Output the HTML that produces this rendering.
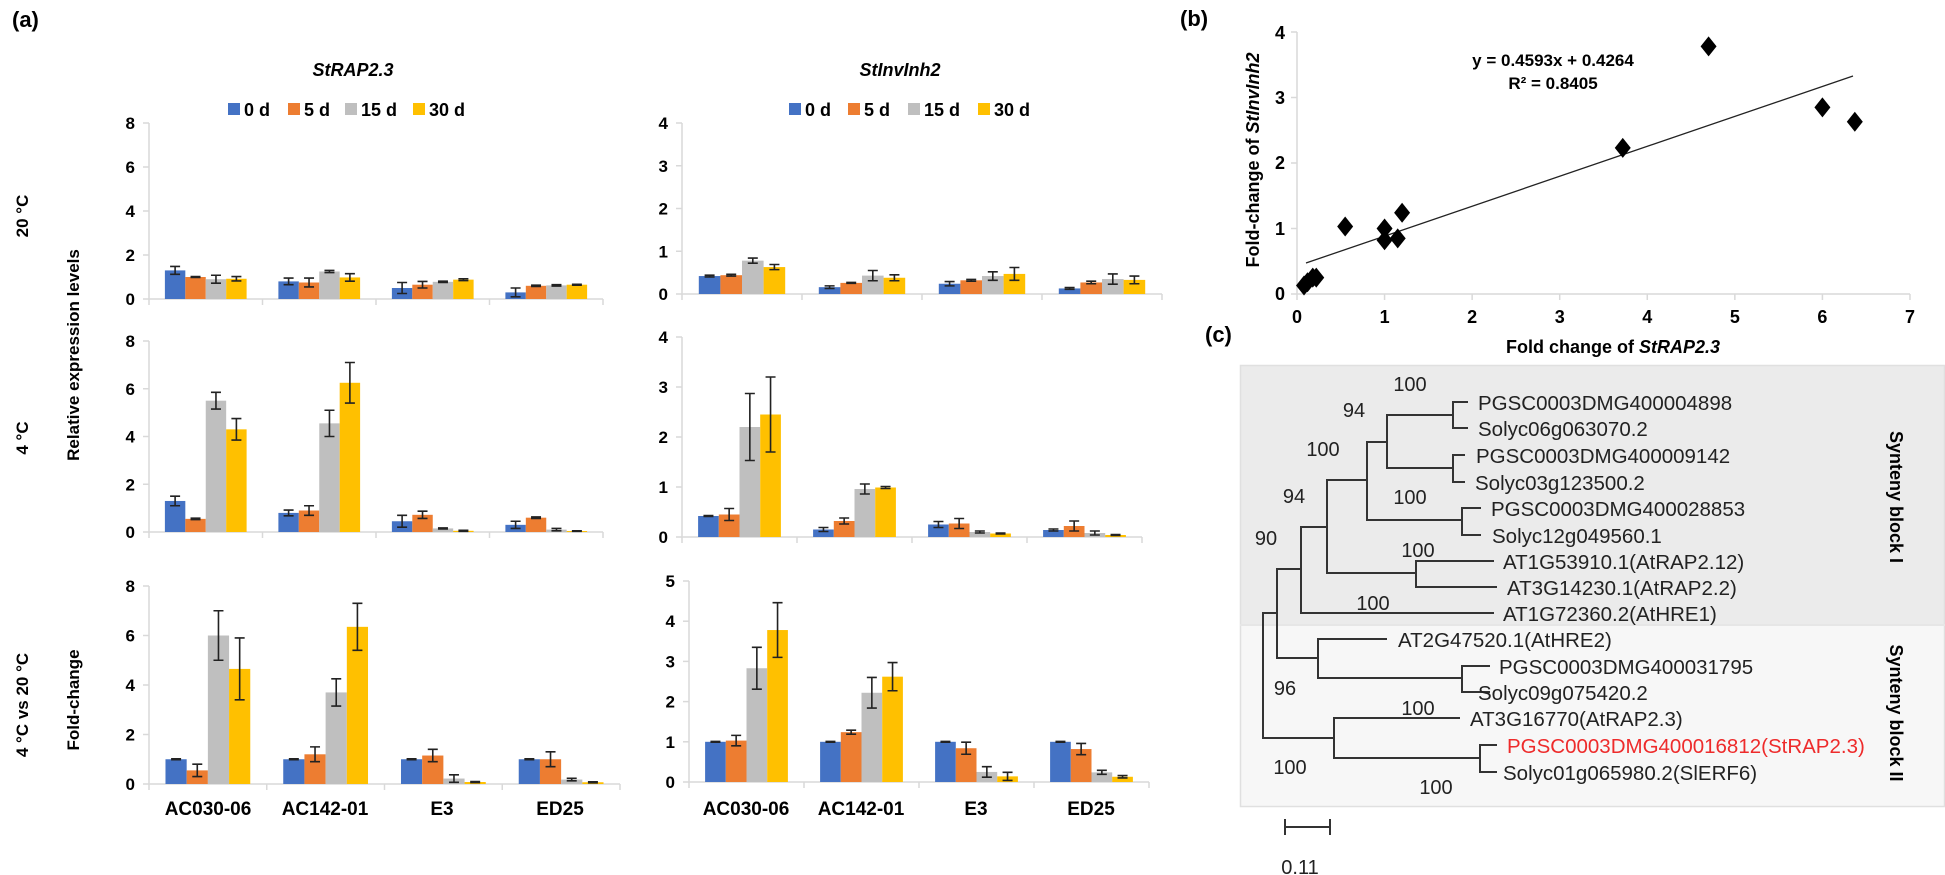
<!DOCTYPE html>
<html><head><meta charset="utf-8">
<style>
html,body{margin:0;padding:0;background:#fff;}
svg{display:block;font-family:"Liberation Sans",Arial,sans-serif;}
.b{font-weight:bold;}
</style></head>
<body>
<svg id="s" width="1945" height="875" viewBox="0 0 1945 875" xmlns="http://www.w3.org/2000/svg">
<rect width="1945" height="875" fill="#fff"/>
<text x="12" y="27" font-size="22" class="b">(a)</text>
<text x="353" y="76" font-size="18" class="b" font-style="italic" text-anchor="middle">StRAP2.3</text>
<text x="900" y="76" font-size="18" class="b" font-style="italic" text-anchor="middle">StInvInh2</text>
<g font-size="18" class="b">
<rect x="228" y="103" width="12" height="12" fill="#4472c4"/><text x="244" y="116">0 d</text>
<rect x="288" y="103" width="12" height="12" fill="#ed7d31"/><text x="304" y="116">5 d</text>
<rect x="345" y="103" width="12" height="12" fill="#bfbfbf"/><text x="361" y="116">15 d</text>
<rect x="413" y="103" width="12" height="12" fill="#ffc000"/><text x="429" y="116">30 d</text>
<rect x="789" y="103" width="12" height="12" fill="#4472c4"/><text x="805" y="116">0 d</text>
<rect x="848" y="103" width="12" height="12" fill="#ed7d31"/><text x="864" y="116">5 d</text>
<rect x="908" y="103" width="12" height="12" fill="#bfbfbf"/><text x="924" y="116">15 d</text>
<rect x="978" y="103" width="12" height="12" fill="#ffc000"/><text x="994" y="116">30 d</text>
</g>
<g font-size="17" class="b" text-anchor="middle">
<text transform="translate(28,216) rotate(-90)">20 °C</text>
<text transform="translate(28,438) rotate(-90)">4 °C</text>
<text transform="translate(28,705) rotate(-90)">4 °C vs 20 °C</text>
<text transform="translate(79,355) rotate(-90)">Relative expression levels</text>
<text transform="translate(79,700) rotate(-90)">Fold-change</text>
</g>
<g font-size="19" class="b" text-anchor="middle">
<text x="208" y="815">AC030-06</text><text x="325" y="815">AC142-01</text><text x="442" y="815">E3</text><text x="560" y="815">ED25</text>
<text x="746" y="815">AC030-06</text><text x="861" y="815">AC142-01</text><text x="976" y="815">E3</text><text x="1091" y="815">ED25</text>
</g>
<g id="charts"></g>

<text x="1180" y="26" font-size="22" class="b">(b)</text>
<g stroke="#d9d9d9" stroke-width="1.5" fill="none">
<line x1="1297" y1="32" x2="1297" y2="294"/>
<line x1="1297" y1="294" x2="1910" y2="294"/>
</g>
<g id="bticks" stroke="#d9d9d9" stroke-width="1.5"></g>
<g font-size="18" class="b" text-anchor="middle">
<text x="1297" y="323">0</text><text x="1384.6" y="323">1</text><text x="1472.1" y="323">2</text><text x="1559.7" y="323">3</text><text x="1647.3" y="323">4</text><text x="1734.9" y="323">5</text><text x="1822.4" y="323">6</text><text x="1910" y="323">7</text>
</g>
<g font-size="18" class="b" text-anchor="end">
<text x="1285" y="300">0</text><text x="1285" y="235">1</text><text x="1285" y="169">2</text><text x="1285" y="104">3</text><text x="1285" y="39">4</text>
</g>
<text x="1613" y="353" font-size="18" class="b" text-anchor="middle">Fold change of <tspan font-style="italic">StRAP2.3</tspan></text>
<text transform="translate(1259,160) rotate(-90)" font-size="18" class="b" text-anchor="middle">Fold-change of <tspan font-style="italic">StInvInh2</tspan></text>
<text x="1553" y="66" font-size="17" class="b" text-anchor="middle">y = 0.4593x + 0.4264</text>
<text x="1553" y="89" font-size="17" class="b" text-anchor="middle">R² = 0.8405</text>
<line x1="1306" y1="263" x2="1853" y2="76" stroke="#222" stroke-width="1.3"/>
<g id="pts" fill="#000"></g>

<text x="1205" y="342" font-size="22" class="b">(c)</text>
<rect x="1240" y="365" width="705" height="260" fill="#ebebeb"/>
<rect x="1240" y="625" width="705" height="182" fill="#f7f7f7"/>
<rect x="1240.5" y="365.5" width="704" height="441" fill="none" stroke="#e0e0e0" stroke-width="1.5"/>
<line x1="1240" y1="625" x2="1945" y2="625" stroke="#e6e6e6" stroke-width="2"/>
<g stroke="#333" stroke-width="2" fill="none">
<path d="M1468 402H1453V428H1468"/>
<path d="M1465 455H1453V482H1465"/>
<path d="M1453 415H1387V468H1453"/>
<path d="M1481 508H1462V535H1481"/>
<path d="M1387 442H1367V520H1462"/>
<path d="M1494 561H1416V587H1497"/>
<path d="M1367 480H1327V573H1416"/>
<path d="M1327 527H1301V613H1494"/>
<path d="M1490 666H1462V692H1490"/>
<path d="M1387 639H1318V678H1462"/>
<path d="M1301 569H1277V658H1318"/>
<path d="M1497 745H1480V772H1497"/>
<path d="M1460 718H1334V758H1480"/>
<path d="M1277 613H1263V738H1334"/>
<path d="M1285 827H1330M1285 819V835M1330 819V835"/>
</g>
<g font-size="20" fill="#222" text-anchor="middle">
<text x="1410" y="391">100</text><text x="1354" y="417">94</text><text x="1323" y="456">100</text>
<text x="1410" y="504">100</text><text x="1294" y="503">94</text><text x="1266" y="545">90</text>
<text x="1418" y="557">100</text><text x="1373" y="610">100</text><text x="1285" y="695">96</text>
<text x="1418" y="715">100</text><text x="1290" y="774">100</text><text x="1436" y="794">100</text>
<text x="1300" y="874">0.11</text>
</g>
<g font-size="20.5" fill="#222">
<text x="1478" y="410">PGSC0003DMG400004898</text>
<text x="1478" y="436">Solyc06g063070.2</text>
<text x="1476" y="463">PGSC0003DMG400009142</text>
<text x="1475" y="490">Solyc03g123500.2</text>
<text x="1491" y="516">PGSC0003DMG400028853</text>
<text x="1492" y="543">Solyc12g049560.1</text>
<text x="1503" y="569">AT1G53910.1(AtRAP2.12)</text>
<text x="1507" y="595">AT3G14230.1(AtRAP2.2)</text>
<text x="1503" y="621">AT1G72360.2(AtHRE1)</text>
<text x="1398" y="647">AT2G47520.1(AtHRE2)</text>
<text x="1499" y="674">PGSC0003DMG400031795</text>
<text x="1478" y="700">Solyc09g075420.2</text>
<text x="1470" y="726">AT3G16770(AtRAP2.3)</text>
<text x="1507" y="753" fill="#ee2b2b">PGSC0003DMG400016812(StRAP2.3)</text>
<text x="1503" y="780">Solyc01g065980.2(SlERF6)</text>
</g>
<g font-size="18" class="b" text-anchor="middle">
<text transform="translate(1890,497) rotate(90)">Synteny block I</text>
<text transform="translate(1890,713) rotate(90)">Synteny block II</text>
</g>
</svg>
<script>
(function(){
var NS="http://www.w3.org/2000/svg";
var g=document.getElementById('charts');
function el(t,a,p){var e=document.createElementNS(NS,t);for(var k in a)e.setAttribute(k,a[k]);(p||g).appendChild(e);return e;}
var cols=["#4472c4","#ed7d31","#bfbfbf","#ffc000"];
function chart(c){
  var h=c.y0-c.yt, sc=h/c.max, w=(c.x1-c.x0)/4, bw=w*0.18;
  el('line',{x1:c.x0,y1:c.yt,x2:c.x0,y2:c.y0,stroke:"#d9d9d9","stroke-width":1.5});
  el('line',{x1:c.x0,y1:c.y0,x2:c.x1,y2:c.y0,stroke:"#d9d9d9","stroke-width":1.5});
  for(var i=0;i<=4;i++){var x=c.x0+i*w;el('line',{x1:x,y1:c.y0,x2:x,y2:c.y0+6,stroke:"#d9d9d9","stroke-width":1.5});}
  for(var v=0;v<=c.max;v+=c.step){var y=c.y0-v*sc;
    el('line',{x1:c.x0-6,y1:y,x2:c.x0,y2:y,stroke:"#d9d9d9","stroke-width":1.5});
    var t=el('text',{x:c.x0-14,y:y+6,"font-size":17,"font-weight":"bold","text-anchor":"end"});t.textContent=v;}
  for(var gi=0;gi<4;gi++){var gx=c.x0+gi*w+(w-4*bw)/2;
    for(var b=0;b<4;b++){var d=c.d[gi][b],val=d[0],e=d[1],x=gx+b*bw,y=c.y0-val*sc;
      el('rect',{x:x,y:y,width:bw,height:val*sc,fill:cols[b]});
      var cx=x+bw/2,ya=c.y0-(val+e)*sc,yb=c.y0-(val-e)*sc;
      el('path',{d:"M"+cx+" "+ya+"V"+yb+"M"+(cx-5)+" "+ya+"H"+(cx+5)+"M"+(cx-5)+" "+yb+"H"+(cx+5),stroke:"#222","stroke-width":1.6,fill:"none"});
    }}
}
chart({x0:149,x1:603,y0:299,yt:123,max:8,step:2,d:[[[1.3,.18],[1.0,.02],[.9,.18],[.92,.1]],[[.8,.15],[.75,.2],[1.25,.05],[.98,.17]],[[.5,.25],[.65,.15],[.78,.03],[.88,.04]],[[.3,.2],[.6,.03],[.62,.03],[.65,.02]]]});
chart({x0:149,x1:603,y0:532,yt:341,max:8,step:2,d:[[[1.3,.2],[.55,.03],[5.5,.35],[4.3,.45]],[[.8,.12],[.9,.2],[4.55,.55],[6.25,.85]],[[.45,.25],[.72,.15],[.15,.02],[.05,.02]],[[.3,.15],[.6,.03],[.1,.05],[.04,.01]]]});
chart({x0:149,x1:620,y0:784,yt:586,max:8,step:2,d:[[[1,.02],[.55,.25],[6,1],[4.65,1.25]],[[1,.02],[1.2,.3],[3.7,.55],[6.35,.95]],[[1,.02],[1.15,.25],[.22,.15],[.08,.02]],[[1,.02],[1,.3],[.18,.05],[.07,.02]]]});
chart({x0:682,x1:1162,y0:294,yt:123,max:4,step:1,d:[[[.42,.02],[.44,.02],[.78,.06],[.63,.06]],[[.16,.03],[.26,.01],[.43,.12],[.38,.07]],[[.24,.05],[.32,.02],[.42,.1],[.47,.15]],[[.13,.02],[.27,.03],[.35,.12],[.33,.09]]]});
chart({x0:682,x1:1142,y0:537,yt:337,max:4,step:1,d:[[[.42,.01],[.45,.12],[2.2,.67],[2.45,.75]],[[.15,.04],[.32,.06],[.96,.1],[.99,.02]],[[.25,.06],[.27,.1],[.1,.02],[.07,.01]],[[.14,.02],[.22,.1],[.08,.04],[.04,.01]]]});
chart({x0:689,x1:1149,y0:782,yt:581,max:5,step:1,d:[[[1,.01],[1.03,.13],[2.83,.52],[3.78,.68]],[[1,.01],[1.24,.05],[2.22,.38],[2.62,.35]],[[1,.01],[.84,.15],[.25,.13],[.14,.1]],[[1,.01],[.82,.14],[.24,.05],[.13,.03]]]});
var bt=document.getElementById('bticks');
for(var i=0;i<=7;i++){var x=1297+i*87.57;el('line',{x1:x,y1:294,x2:x,y2:300},bt);}
for(var j=0;j<=4;j++){var y=294-j*65.5;el('line',{x1:1291,y1:y,x2:1297,y2:y},bt);}
var pts=[[0.08,0.13],[0.12,0.18],[0.18,0.25],[0.22,0.25],[0.55,1.03],[1.0,1.0],[1.0,0.82],[1.15,0.85],[1.2,1.24],[3.72,2.23],[4.7,3.78],[6.0,2.85],[6.37,2.63]];
var pg=document.getElementById('pts');
pts.forEach(function(p){var x=1297+p[0]*87.57,y=294-p[1]*65.5;
 el('path',{d:"M"+x+" "+(y-10)+"L"+(x+8)+" "+y+"L"+x+" "+(y+10)+"L"+(x-8)+" "+y+"Z"},pg);});
})();
</script>
</body></html>
